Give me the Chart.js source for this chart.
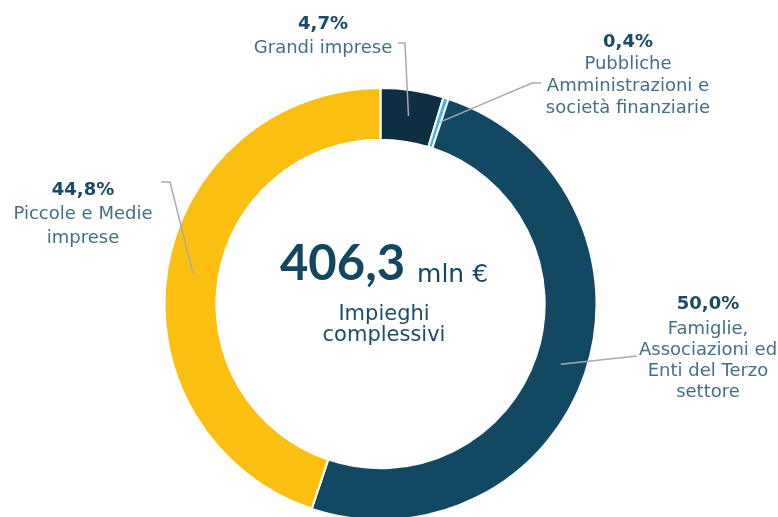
<!DOCTYPE html>
<html>
<head>
<meta charset="utf-8">
<script src="https://cdn.jsdelivr.net/npm/chart.js@4"></script>
<style>
  html, body { margin: 0; padding: 0; background: #fff; }
  #wrap { width: 778px; height: 517px; }
</style>
</head>
<body>
<div id="wrap"><canvas id="impieghiChart" width="778" height="517"></canvas></div>
<script>
"use strict";

// Impieghi complessivi per settore
const categories = [
  "Grandi imprese",
  "Pubbliche Amministrazioni e società finanziarie",
  "Famiglie, Associazioni ed Enti del Terzo settore",
  "Piccole e Medie imprese",
];
const shares = [4.7, 0.4, 50.0, 44.8];
const shareLabels = ["4,7%", "0,4%", "50,0%", "44,8%"];
const labelLines = [
  ["Grandi imprese"],
  ["Pubbliche", "Amministrazioni e", "società finanziarie"],
  ["Famiglie,", "Associazioni ed", "Enti del Terzo", "settore"],
  ["Piccole e Medie", "imprese"],
];
const colors = ["#0c2f42", "#48b3e6", "#124862", "#fbbf12"];
const totalValue = "406,3";
const totalUnit = "mln €";
const totalCaption = ["Impieghi", "complessivi"];

// where each label block sits and how its leader line bends
const labelPos = [
  { x: 323, y: 29, gap: 24, line: [[398, 43], [405, 43]] },
  { x: 628, y: 47, gap: 22, line: [[541, 83], [532, 83]] },
  { x: 708, y: 309, gap: 21, line: [[637, 356]] },
  { x: 83, y: 195, gap: 24, line: [[161, 182], [170, 182]] },
];

const pctColor = "#1b4a63";
const textColor = "#446f84";
const labelFont = '"DejaVu Sans", sans-serif';

const calloutPlugin = {
  id: "callouts",
  afterDraw(chart) {
    const ctx = chart.ctx;
    const arcs = chart.getDatasetMeta(0).data;
    ctx.save();

    // leader lines, ending at the middle of each slice
    ctx.strokeStyle = "#a9a9a9";
    ctx.lineWidth = 1.5;
    arcs.forEach((arc, i) => {
      const p = arc.getCenterPoint();
      const pts = labelPos[i].line;
      ctx.beginPath();
      ctx.moveTo(pts[0][0], pts[0][1]);
      for (let k = 1; k < pts.length; k++) ctx.lineTo(pts[k][0], pts[k][1]);
      ctx.lineTo(p.x, p.y);
      ctx.stroke();
    });

    // label texts
    ctx.textAlign = "center";
    ctx.textBaseline = "alphabetic";
    labelPos.forEach((pos, i) => {
      ctx.fillStyle = pctColor;
      ctx.font = "bold 18px " + labelFont;
      ctx.fillText(shareLabels[i], pos.x, pos.y);
      ctx.fillStyle = textColor;
      ctx.font = "18px " + labelFont;
      labelLines[i].forEach((t, k) => {
        ctx.fillText(t, pos.x, pos.y + (k + 1) * pos.gap + (i === 2 ? 4 : 0));
      });
    });

    // center text
    const cx = 384;
    ctx.font = "bold 49px Lato, sans-serif";
    const w1 = ctx.measureText(totalValue).width;
    ctx.font = "25px " + labelFont;
    const w2 = ctx.measureText(totalUnit).width;
    const gap = 12;
    const left = cx - (w1 + gap + w2) / 2;
    ctx.textAlign = "left";
    ctx.fillStyle = "#13475f";
    ctx.font = "bold 49px Lato, sans-serif";
    ctx.fillText(totalValue, left, 280);
    ctx.font = "25px " + labelFont;
    ctx.fillText(totalUnit, left + w1 + gap, 282);
    ctx.textAlign = "center";
    ctx.fillStyle = "#1d4d65";
    ctx.font = "21px " + labelFont;
    ctx.fillText(totalCaption[0], cx, 320);
    ctx.fillText(totalCaption[1], cx, 341);
    ctx.restore();
  },
};

const data = {
  labels: categories,
  datasets: [
    {
      data: shares,
      backgroundColor: colors,
      borderColor: "#ffffff",
      borderWidth: 2,
    },
  ],
};

const config = {
  type: "doughnut",
  data: data,
  options: {
    responsive: false,
    animation: false,
    devicePixelRatio: 1,
    cutout: "76%",
    radius: 216,
    layout: {
      padding: { top: 91, bottom: 0, left: 0, right: 17 },
    },
    plugins: {
      legend: { display: false },
      tooltip: { enabled: false },
    },
  },
  plugins: [calloutPlugin],
};

const myChart = new Chart(document.getElementById("impieghiChart"), config);
</script>
</body>
</html>
